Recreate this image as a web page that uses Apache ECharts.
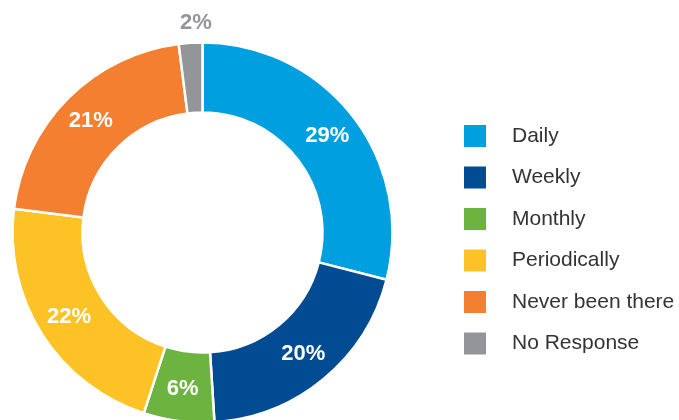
<!DOCTYPE html>
<html>
<head>
<meta charset="utf-8">
<script src="https://cdn.jsdelivr.net/npm/echarts@6/dist/echarts.min.js"></script>
<style>
  html, body { margin: 0; padding: 0; background: #fff; }
  #chart { width: 679px; height: 420px; }
</style>
</head>
<body>
<div id="chart"></div>
<script>
const categories = ['Daily', 'Weekly', 'Monthly', 'Periodically', 'Never been there', 'No Response']
const shares = [29, 20, 6, 22, 21, 2]
const colors = ['#009FDF', '#004B91', '#6DB33F', '#FDC326', '#F47F30', '#939598']

const chart = echarts.init(document.getElementById('chart'))

const pieData = categories.map((name, i) => {
  const item = { name: name, value: shares[i], itemStyle: { color: colors[i] } }
  // the tiny slice gets its label outside, in grey, above the ring
  if (name === 'No Response') {
    item.label = { position: 'outside', color: '#939598', distanceToLabelLine: -22.5 }
    item.labelLine = { show: false, length: 20, length2: 0 }
  }
  return item
})

chart.setOption({
  animation: false,
  legend: {
    orient: 'vertical',
    left: 457,
    top: 118,
    itemWidth: 24,
    itemHeight: 24,
    itemGap: 15.5,
    icon: 'rect',
    textStyle: {
      fontFamily: 'Liberation Sans',
      fontSize: 21,
      color: '#333',
      padding: [0, 0, 0, 20]
    },
    data: categories
  },
  series: [
    {
      type: 'pie',
      center: [202.5, 232.5],
      radius: [120, 190],
      startAngle: 90,
      clockwise: true,
      avoidLabelOverlap: false,
      itemStyle: {
        borderColor: '#fff',
        borderWidth: 2.5
      },
      label: {
        show: true,
        position: 'inside',
        formatter: '{c}%',
        color: '#fff',
        fontFamily: 'Liberation Sans',
        fontWeight: 'bold',
        fontSize: 22
      },
      data: pieData
    }
  ]
})
</script>
</body>
</html>
